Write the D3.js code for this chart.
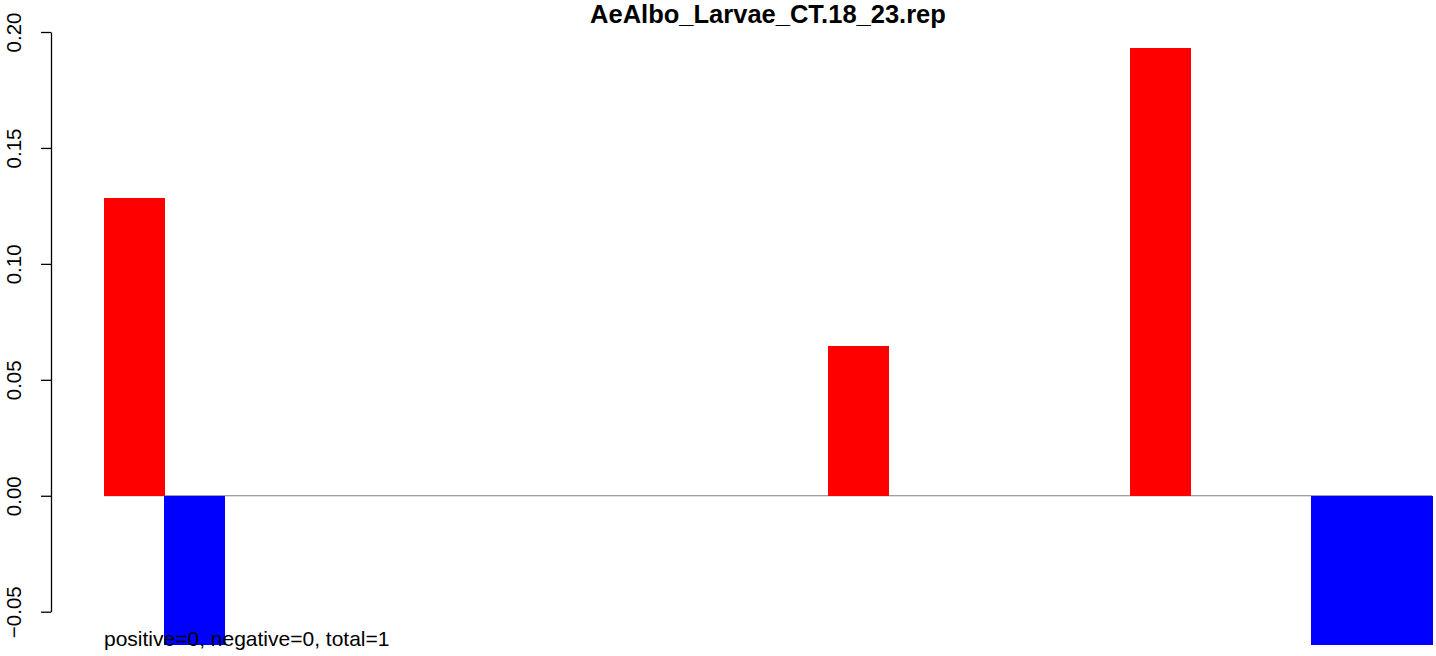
<!DOCTYPE html>
<html>
<head>
<meta charset="utf-8">
<script src="https://cdn.jsdelivr.net/npm/d3@7"></script>
<style>
  html, body { margin: 0; padding: 0; background: #fff; }
  svg { display: block; font-family: "Liberation Sans", Arial, sans-serif; }
</style>
</head>
<body>
<svg id="chart" width="1436" height="656"></svg>
<script>
// values (22 bars, most are 0)
const categories = d3.range(1, 23).map(String);
const values = [0.1286, -0.0643, 0, 0, 0, 0, 0, 0, 0, 0, 0, 0,
                0.0644, 0, 0, 0, 0, 0.193, 0, 0, -0.0643, -0.0643];
const yTicks = [-0.05, 0, 0.05, 0.10, 0.15, 0.20];
const title = "AeAlbo_Larvae_CT.18_23.rep";
const footnote = "positive=0, negative=0, total=1";

const svg = d3.select("#chart");

const x = d3.scaleBand()
  .domain(categories)
  .range([104, 1432])
  .padding(0);

const y = d3.scaleLinear()
  .domain([-0.05, 0.20])
  .range([611.7, 32]);

// zero line
svg.append("line")
  .attr("x1", x.range()[0])
  .attr("x2", x.range()[1])
  .attr("y1", y(0))
  .attr("y2", y(0))
  .attr("stroke", "#808080")
  .attr("stroke-width", 1.2);

// bars
svg.append("g")
  .attr("shape-rendering", "crispEdges")
  .selectAll("rect")
  .data(values.map((v, i) => ({ cat: categories[i], v })))
  .join("rect")
  .attr("x", (d) => x(d.cat))
  .attr("width", x.bandwidth() + 0.5)
  .attr("y", (d) => y(Math.max(0, d.v)))
  .attr("height", (d) => Math.abs(y(d.v) - y(0)))
  .attr("fill", (d) => (d.v >= 0 ? "#ff0000" : "#0000ff"));

// y axis, R style
const yAxis = svg.append("g")
  .attr("transform", "translate(51,0)")
  .call(d3.axisLeft(y).tickValues(yTicks).tickFormat(d3.format(".2f")).tickSize(10).tickSizeOuter(0));

yAxis.select(".domain").attr("stroke", "#000").attr("stroke-width", 1.3);
yAxis.selectAll(".tick line").attr("stroke", "#000").attr("stroke-width", 1.3);
yAxis.selectAll(".tick text")
  .attr("x", null)
  .attr("dy", null)
  .attr("transform", "translate(-30,0) rotate(-90)")
  .attr("text-anchor", "middle")
  .style("font-size", "20.5px")
  .style("fill", "#000");

// title
svg.append("text")
  .attr("x", 768)
  .attr("y", 23)
  .attr("text-anchor", "middle")
  .style("font-size", "25.5px")
  .style("font-weight", "bold")
  .text(title);

// footnote
svg.append("text")
  .attr("x", 104)
  .attr("y", 646)
  .style("font-size", "21px")
  .text(footnote);
</script>
</body>
</html>
